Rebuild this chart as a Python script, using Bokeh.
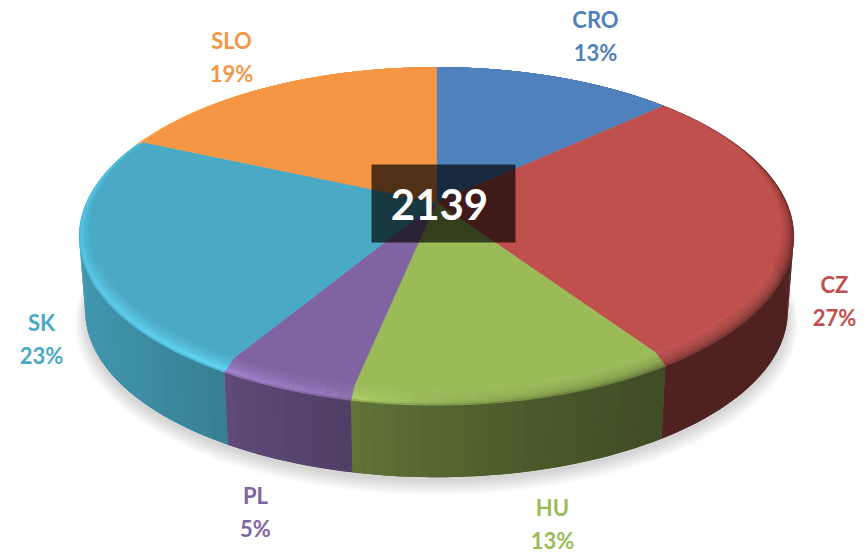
import numpy as np
from bokeh.plotting import figure
from bokeh.models import Range1d, ColumnDataSource
from bokeh.core.properties import value
from bokeh.embed import file_html
from bokeh.resources import INLINE

categories = ["CRO", "CZ", "HU", "PL", "SK", "SLO"]
shares = [13.3, 27.55, 12.3, 5.2, 23.05, 18.6]
percent_labels = ["13%", "27%", "13%", "5%", "23%", "19%"]
total_label = "2139"
colors = ["#4f81bd", "#c0504d", "#9bbb59", "#8064a2", "#4aaac5", "#f59645"]

# projection of the pie disc (pixels of the page)
CX, CY, A, B, PERSP = 436.0, 202.0, 350.0, 162.0, 0.201
DEPTH, BOTTOM_SCALE = 75.4, 0.983
FONT = "Lato"


def hex2rgb(h):
    return np.array([int(h[i:i + 2], 16) for i in (1, 3, 5)], dtype=float)


def rgb2hex(c):
    c = np.clip(np.round(c), 0, 255).astype(int)
    return "#%02x%02x%02x" % tuple(c)


def disc(theta, r=1.0):
    u, v = r * np.sin(theta), -r * np.cos(theta)
    w = 1 - PERSP * v
    return CX + A * u / w, CY + B * v / w


def inner(theta):
    x, y = disc(theta)
    u, v = np.sin(theta), -np.cos(theta)
    return x - 10 * u * (1 + v), y - 16 * ((1 + v) / 2) ** 2


def bottom(theta):
    x, y = disc(theta)
    return CX + BOTTOM_SCALE * (x - CX), CY + DEPTH + BOTTOM_SCALE * (y - CY)


def side_factor(x):
    return np.interp(x, [85, 227, 352, 500, 660, 793], [0.88, 0.74, 0.62, 0.50, 0.41, 0.41])


def high_factor(x):
    return np.interp(x, [79, 230, 352, 436, 560, 665, 793], [1.18, 1.28, 1.12, 0.96, 0.84, 0.76, 0.70])


def ring_factor(t, x):
    # t = 0 outer edge, t = 1 flat top
    h, s = high_factor(x), side_factor(x)
    return np.interp(t, [0, 0.2, 0.45, 1], [0.55 * h + 0.45 * s, h, 0.5 * (h + 1), 1])


fractions = np.cumsum([0.0] + shares) / sum(shares)
edges = 2 * np.pi * fractions

p = figure(width=866, height=556, x_range=Range1d(0, 866), y_range=Range1d(556, 0),
           x_axis_type=None, y_axis_type=None, toolbar_location=None,
           output_backend="svg", min_border=0, outline_line_color=None,
           background_fill_color="white", border_fill_color="white")
p.grid.visible = False

# soft shadow
th = np.linspace(0, 2 * np.pi, 181)
for k in np.linspace(1, 0, 14):
    bx, by = bottom(th)
    sx = CX + (bx - CX) * (1 + 0.03 * k)
    sy = (CY + DEPTH) + (by - CY - DEPTH) * (1 + 0.03 * k) + 4 + 8 * k
    p.patch(sx, sy, fill_color="#000000", fill_alpha=0.013, line_color=None)

# side wall base per slice, so that seams between strips do not show white
for i, col in enumerate(colors):
    g = np.linspace(edges[i], edges[i + 1], 60)
    g = g[-np.cos(g) > -0.35]
    if len(g) < 2:
        continue
    ox, oy = disc(g)
    bx, by = bottom(g)
    f = side_factor(ox.mean())
    p.patch(np.r_[ox, bx[::-1]], np.r_[oy, by[::-1]], fill_color=rgb2hex(hex2rgb(col) * f),
            line_color=None)

# side wall strips
xs, ys, fc = [], [], []
for i, col in enumerate(colors):
    n = max(2, int(np.degrees(edges[i + 1] - edges[i]) / 1.5))
    g = np.linspace(edges[i], edges[i + 1], n + 1)
    for a0, a1 in zip(g[:-1], g[1:]):
        m = (a0 + a1) / 2
        if -np.cos(m) < -0.35:
            continue
        t = np.array([a0, a1])
        ox, oy = disc(t)
        bx, by = bottom(t)
        xs.append([ox[0], ox[1], bx[1], bx[0]])
        ys.append([oy[0], oy[1], by[1], by[0]])
        fc.append(rgb2hex(hex2rgb(col) * side_factor(disc(m)[0])))
p.patches(xs="x", ys="y", fill_color="c", line_color=None,
          source=ColumnDataSource(dict(x=xs, y=ys, c=fc)))

# bevelled rim
rings = np.linspace(0, 1, 9)
xs, ys, fc = [], [], []
for i, col in enumerate(colors):
    n = max(2, int(np.degrees(edges[i + 1] - edges[i]) / 2))
    g = np.linspace(edges[i], edges[i + 1], n + 1)
    base = hex2rgb(col)
    for a0, a1 in zip(g[:-1], g[1:]):
        t = np.array([a0, a1])
        ox, oy = disc(t)
        ix, iy = inner(t)
        for r0, r1 in zip(rings[:-1], rings[1:]):
            x0 = ox + (ix - ox) * r0
            y0 = oy + (iy - oy) * r0
            x1 = ox + (ix - ox) * r1
            y1 = oy + (iy - oy) * r1
            xs.append([x0[0], x0[1], x1[1], x1[0]])
            ys.append([y0[0], y0[1], y1[1], y1[0]])
            fc.append(rgb2hex(base * ring_factor((r0 + r1) / 2, x0.mean())))
p.patches(xs="x", ys="y", fill_color="c", line_color="c", line_width=0.5,
          source=ColumnDataSource(dict(x=xs, y=ys, c=fc)))

# flat top
for i, col in enumerate(colors):
    g = np.linspace(edges[i], edges[i + 1], 80)
    ix, iy = inner(g)
    p.patch(np.r_[CX, ix], np.r_[CY, iy], fill_color=col, line_color=col, line_width=0.5)

# central box and total
p.quad(left=[371], right=[515], top=[164], bottom=[242], fill_color="#000000",
       fill_alpha=0.67, line_color=None)
p.text(x=[439], y=[204], text=[total_label], text_color="white", text_align="center",
       text_baseline="middle", text_font=value(FONT), text_font_style="bold",
       text_font_size="42px")

# data labels
label_x = [595, 834, 552, 255, 41, 231]
label_y = [19, 284, 507, 495, 322, 40]
gap = 33
for name, pct, col, lx, ly in zip(categories, percent_labels, colors, label_x, label_y):
    p.text(x=[lx], y=[ly], text=[name], text_color=col, text_align="center",
           text_baseline="middle", text_font=value(FONT), text_font_style="bold",
           text_font_size="22px")
    p.text(x=[lx], y=[ly + gap], text=[pct], text_color=col,
           text_align="center", text_baseline="middle", text_font=value(FONT),
           text_font_style="bold", text_font_size="22px")

open("out.html", "w").write(file_html(p, INLINE))
